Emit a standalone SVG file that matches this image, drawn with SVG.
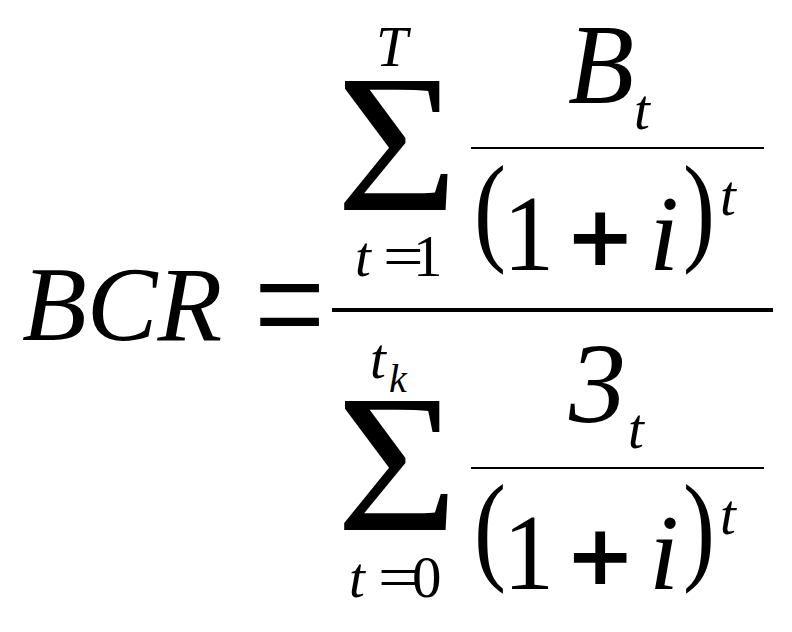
<svg xmlns="http://www.w3.org/2000/svg" width="792" height="632" viewBox="0 0 792 632">
<style>
text{font-family:"Liberation Serif","Times New Roman",serif;fill:#000}
.it{font-style:italic}
.big{font-size:108px}
.sm{font-size:57px}
.par{font-size:120px}
.pl{font-family:"DejaVu Sans",sans-serif;font-size:84px;font-weight:bold}
.sig{font-size:196px}
.bar{stroke:#000;fill:none}
</style>
<rect width="792" height="632" fill="#fff"/>
<g id="lhs">
<text class="it" x="22" y="340" font-size="106">BCR</text>
<text transform="translate(254,361) scale(1.19,1.585)" font-size="106">=</text>
</g>
<line class="bar" x1="332" y1="310" x2="773" y2="310" stroke-width="4"/>
<g id="top">
<text class="it sm" x="376" y="66">T</text>
<text class="sig" transform="translate(336,210) scale(1.07,1)">Σ</text>
<text class="it sm" x="355" y="276">t</text>
<text transform="translate(383,276) scale(1.2,1)" font-size="60">=</text>
<text x="413" y="276" font-size="59">1</text>
<text class="it" transform="translate(568,103) scale(0.95,1)" font-size="114">B</text>
<text class="it sm" x="634" y="129">t</text>
<line class="bar" x1="471" y1="148" x2="764" y2="148" stroke-width="2"/>
<text class="par" transform="translate(474,249) scale(0.8,1)">(</text>
<text class="big" transform="translate(503,270) scale(0.95,1)">1</text>
<text class="pl" x="565" y="265">+</text>
<text class="it big" x="649" y="270">i</text>
<text class="par" transform="translate(683,249) scale(0.8,1)">)</text>
<text class="it sm" x="720" y="215">t</text>
</g>
<g id="bottom">
<text class="it sm" x="370" y="378">t</text>
<text class="it" x="389" y="392" font-size="40">k</text>
<text class="sig" transform="translate(336,530) scale(1.07,1)">Σ</text>
<text class="it sm" x="349" y="597">t</text>
<text transform="translate(378,597) scale(1.2,1)" font-size="60">=</text>
<text x="412" y="597" font-size="59">0</text>
<text class="it" x="569" y="422" font-size="114">3</text>
<text class="it sm" x="628" y="448">t</text>
<line class="bar" x1="471" y1="468" x2="764" y2="468" stroke-width="2"/>
<text class="par" transform="translate(474,568) scale(0.8,1)">(</text>
<text class="big" transform="translate(503,589) scale(0.95,1)">1</text>
<text class="pl" x="565" y="584">+</text>
<text class="it big" x="649" y="589">i</text>
<text class="par" transform="translate(683,568) scale(0.8,1)">)</text>
<text class="it sm" x="720" y="534">t</text>
</g>
</svg>
